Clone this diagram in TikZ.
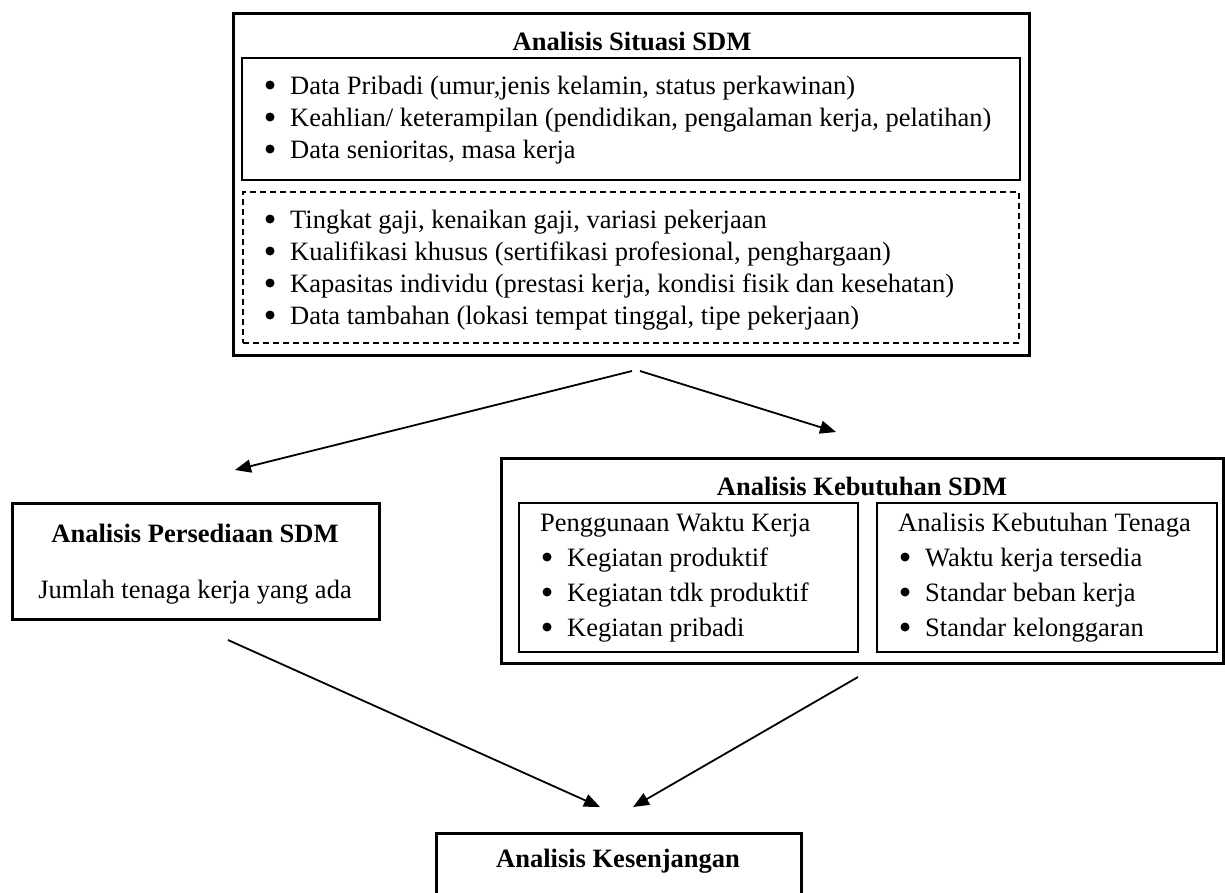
\documentclass[tikz,border=0pt]{standalone}
\usepackage{fontspec}
\setmainfont{Liberation Serif}
\usetikzlibrary{arrows.meta}
\tikzset{
  every node/.style={font=\fontsize{26.5}{32}\selectfont},
  box/.style={draw, line width=3pt, inner sep=0pt},
  subbox/.style={draw, line width=1.3pt, inner sep=0pt},
  dashbox/.style={draw, line width=1.4pt, dash pattern=on 6pt off 4pt, inner sep=0pt},
  title/.style={font=\fontsize{26.5}{32}\selectfont\bfseries, inner sep=0pt},
  txt/.style={inner sep=0pt, text height=18pt, text depth=6pt},
  item/.style={txt, anchor=west},
  dot/.style={circle, fill, inner sep=0pt, minimum size=9pt},
  arr/.style={-{Triangle[length=16pt,width=13pt]}, line width=1.8pt}
}

\begin{document}
\begin{tikzpicture}[x=1pt,y=-1pt]
    \clip (0,0) rectangle (1225,892);

    % situasi
    \node[box, minimum width=796pt, minimum height=342pt] (sit) at (631,184) {};
    \node[box, line width=2.6pt, minimum width=778pt, minimum height=122pt] (sitA) at (631,119) {};
    \node[dashbox, minimum width=776pt, minimum height=151pt] (sitB) at (631,267.5) {};
    \node[title] (sitT) at (632,41) {Analisis Situasi SDM};
    \foreach \t [count=\i] in {{Data Pribadi (umur,jenis kelamin, status perkawinan)},
        {Keahlian/ keterampilan (pendidikan, pengalaman kerja, pelatihan)},
        {Data senioritas, masa kerja}}
    {
        \node[dot] (sitAd\i) at (270,53+32*\i) {};
        \node[item] (sitA\i) at (290,56+32*\i) {\t};
    }
    \foreach \t [count=\i] in {{Tingkat gaji, kenaikan gaji, variasi pekerjaan},
        {Kualifikasi khusus (sertifikasi profesional, penghargaan)},
        {Kapasitas individu (prestasi kerja, kondisi fisik dan kesehatan)},
        {Data tambahan (lokasi tempat tinggal, tipe pekerjaan)}}
    {
        \node[dot] (sitBd\i) at (270,187+32*\i) {};
        \node[item] (sitB\i) at (290,190+32*\i) {\t};
    }

    % persediaan
    \node[box, minimum width=367pt, minimum height=116pt] (per) at (195.5,561) {};
    \node[title] (perT) at (195,533) {Analisis Persediaan SDM};
    \node[txt] (perA) at (195,592) {Jumlah tenaga kerja yang ada};

    % kebutuhan
    \node[box, minimum width=722pt, minimum height=205pt] (keb) at (862,560.5) {};
    \node[title] (kebT) at (862,486) {Analisis Kebutuhan SDM};
    \node[subbox, minimum width=339pt, minimum height=149pt] (kebA) at (688.5,577.5) {};
    \node[subbox, minimum width=340pt, minimum height=149pt] (kebB) at (1047,577.5) {};
    \node[item] (kebA0) at (540,525) {Penggunaan Waktu Kerja};
    \foreach \t [count=\i] in {Kegiatan produktif, Kegiatan tdk produktif, Kegiatan pribadi}
    {
        \node[dot] (kebAd\i) at (547,522+35*\i) {};
        \node[item] (kebA\i) at (567,525+35*\i) {\t};
    }
    \node[item] (kebB0) at (898,525) {Analisis Kebutuhan Tenaga};
    \foreach \t [count=\i] in {Waktu kerja tersedia, Standar beban kerja, Standar kelonggaran}
    {
        \node[dot] (kebBd\i) at (905,522+35*\i) {};
        \node[item] (kebB\i) at (925,525+35*\i) {\t};
    }

    % kesenjangan
    \node[box, minimum width=365pt, minimum height=120pt] (kes) at (618.5,893) {};
    \node[title] (kesT) at (618,861) {Analisis Kesenjangan};

    % arrows
    \coordinate (sitL) at (632,371);
    \coordinate (sitR) at (640,371);
    \coordinate (perIn) at (235,470);
    \coordinate (kebIn) at (836,432);
    \coordinate (perOut) at (228,640);
    \coordinate (kebOut) at (858,677);
    \coordinate (kesL) at (600,807);
    \coordinate (kesR) at (633,807);

    \draw[arr] (sitL) -- (perIn);
    \draw[arr] (sitR) -- (kebIn);
    \draw[arr] (perOut) -- (kesL);
    \draw[arr] (kebOut) -- (kesR);
\end{tikzpicture}
\end{document}
